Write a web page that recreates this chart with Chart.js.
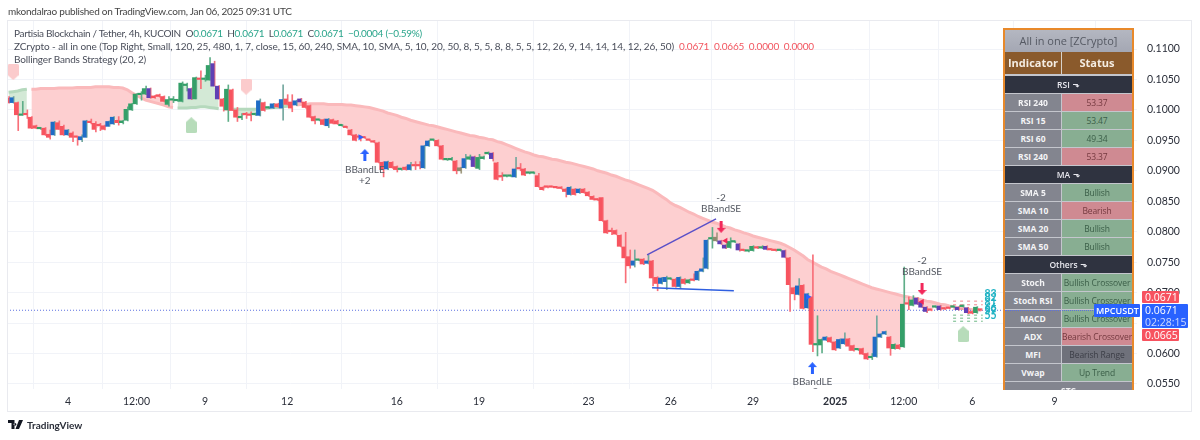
<!DOCTYPE html>
<html>
<head>
<meta charset="utf-8">
<title>MPCUSDT</title>
<script src="https://cdn.jsdelivr.net/npm/chart.js"></script>
<style>
  html, body { margin:0; padding:0; background:#fff; width:1200px; height:440px; overflow:hidden; font-family:Lato,sans-serif; color:#333; }
  canvas { position:absolute; left:0; top:0; }
  .abs { position:absolute; white-space:nowrap; }
  #frame { position:absolute; left:7px; top:20px; width:1185px; height:392px; border:1px solid #e9eaef; box-sizing:border-box; }
  .legend { font-size:10px; color:#4a4e5a; left:14px; }
  .up { color:#2aa58b; }
  .dn { color:#f2555f; }
  #panel { position:absolute; left:1003px; top:28px; width:131px; height:362px; overflow:hidden; border:solid #e8892b; border-width:2px 2px 0 2px; box-sizing:border-box; font-size:8.5px; font-family:"Open Sans",sans-serif; }
  .row { display:flex; height:18px; box-sizing:border-box; border-bottom:1px solid #c4c6cd; text-align:center; line-height:17px; }
  .l { width:56px; background:#83858f; color:#f4f4f6; font-weight:700; border-right:1px solid #c4c6cd; }
  .r { flex:1; white-space:nowrap; overflow:hidden; letter-spacing:-0.1px; }
  .bull { background:#88ae92; color:#3b5e48; }
  .bear { background:#cf8a92; color:#74393f; }
  .neut { background:#6f717b; color:#3c3e47; }
  .plain { background:#83858f; color:#f4f4f6; font-weight:700; }
  .sec { background:#2f3340; color:#e8e8ee; justify-content:center; font-weight:600; }
  .tag { position:absolute; color:#fff; font-size:10.5px; box-sizing:border-box; padding-left:3px; border-radius:1px; font-family:"Open Sans",sans-serif; }
</style>
</head>
<body>
<div id="frame"></div>
<canvas id="chart" width="1200" height="440"></canvas>

<div class="abs" style="left:8px;top:5px;font-size:10px;letter-spacing:-0.24px;color:#444">mkondalrao published on TradingView.com, Jan 06, 2025 09:31 UTC</div>
<div class="abs legend" style="top:27px;letter-spacing:-0.3px">Partisia Blockchain / Tether, 4h, KUCOIN &nbsp;O<span class="up">0.0671</span> &nbsp;H<span class="up">0.0671</span> &nbsp;L<span class="up">0.0671</span> &nbsp;C<span class="up">0.0671</span> &nbsp;<span class="up">−0.0004 (−0.59%)</span></div>
<div class="abs legend" style="top:40px;letter-spacing:-0.07px">ZCrypto - all in one (Top Right, Small, 120, 25, 480, 1, 7, close, 15, 60, 240, SMA, 10, SMA, 5, 10, 20, 50, 8, 5, 5, 8, 8, 5, 5, 12, 26, 9, 14, 14, 14, 12, 26, 50) &nbsp;<span class="dn" style="letter-spacing:-0.2px">0.0671 &nbsp;0.0665 &nbsp;0.0000 &nbsp;0.0000</span></div>
<div class="abs legend" style="top:53px;letter-spacing:-0.15px">Bollinger Bands Strategy (20, 2)</div>

<div id="panel"></div>
<div class="abs" style="left:1005px;top:310px;width:90px;border-top:1px dotted #5b6fe0"></div>

<div class="tag" style="left:1142px;top:291px;width:37px;height:12px;line-height:12px;background:#f7525f">0.0671</div>
<div class="tag" style="left:1142px;top:304px;width:46px;height:24px;line-height:12px;background:#2962ff">0.0671<br><span style="color:#cfdcff">02:28:15</span></div>
<div class="tag" style="left:1142px;top:329px;width:37px;height:12px;line-height:12px;background:#f7525f">0.0665</div>
<div class="tag" style="left:1094px;top:304px;width:46px;height:13px;line-height:13px;background:#2962ff;font-weight:600;font-size:9px;padding-left:2px">MPCUSDT</div>

<svg class="abs" style="left:8px;top:420px" width="16" height="10" viewBox="0 0 16 10"><path d="M0 0h6.5v9H3.5V3H0zM7 3a1.4 1.4 0 1 0 .01 0zM11 0h4l-4 9H7.5z" fill="#131722"/></svg>
<div class="abs" style="left:27px;top:419px;font-size:10px;font-weight:700;color:#2a2e39">TradingView</div>

<script>
const FONT = 'Lato, sans-serif';

// candles, one per 4h
const opens = [
  .1019,.1012,.1012,.0991,.0993,.0988,.0974,.0969,.0970,.0960,
  .0959,.0979,.0973,.0959,.0962,.0956,.0951,.0955,.0981,.0978,
  .0975,.0974,.0973,.0977,.0983,.0979,.0983,.1000,.1010,.1025,
  .1026,.1035,.1023,.1025,.1022,.1009,.1016,.1015,.1014,.1040,
  .1035,.1018,.1052,.1050,.1049,.1076,.1039,.1018,.1000,.1033,
  .1000,.0987,.0994,.0993,.0992,.0991,.1012,.1003,.1003,.1010,
  .1003,.1018,.1013,.1008,.1018,.1013,.1007,.0989,.0983,.0984,
  .0974,.0984,.0982,.0974,.0972,.0967,.0959,.0957,.0955,.0951,
  .0948,.0946,.0914,.0903,.0914,.0907,.0902,.0906,.0902,.0909,
  .0909,.0905,.0941,.0950,.0950,.0941,.0918,.0918,.0916,.0900,
  .0905,.0919,.0923,.0904,.0920,.0928,.0929,.0913,.0891,.0891,
  .0891,.0890,.0904,.0903,.0896,.0896,.0892,.0873,.0874,.0874,
  .0873,.0873,.0870,.0861,.0870,.0864,.0870,.0865,.0858,.0853,
  .0856,.0818,.0801,.0802,.0794,.0775,.0759,.0745,.0753,.0755,
  .0748,.0752,.0725,.0715,.0718,.0722,.0722,.0710,.0722,.0716,
  .0722,.0721,.0735,.0740,.0788,.0785,.0785,.0778,.0774,.0783,
  .0780,.0770,.0768,.0769,.0774,.0773,.0776,.0771,.0770,.0769,
  .0769,.0757,.0708,.0697,.0712,.0675,.0693,.0614,.0614,.0622,
  .0626,.0619,.0609,.0616,.0624,.0613,.0606,.0608,.0600,.0593,
  .0595,.0627,.0632,.0627,.0608,.0614,.0611,.0682,.0679,.0691,
  .0684,.0676,.0672,.0676,.0678,.0674,.0675,.0676,.0676,.0677,
  .0675,.0669,.0667,.0671];
const highs = [
  .1022,.1022,.1013,.1014,.1000,.0989,.0975,.0971,.0971,.0967,
  .0981,.0982,.0975,.0968,.0964,.0957,.0959,.0983,.0985,.0981,
  .0978,.0975,.0982,.0989,.0989,.0983,.1005,.1011,.1027,.1030,
  .1039,.1036,.1024,.1026,.1023,.1022,.1022,.1017,.1046,.1044,
  .1036,.1054,.1064,.1057,.1086,.1080,.1040,.1019,.1041,.1034,
  .1004,.0994,.0996,.0997,.0995,.1018,.1013,.1005,.1011,.1011,
  .1041,.1025,.1025,.1016,.1019,.1014,.1008,.0990,.0985,.0985,
  .0986,.0985,.0983,.0976,.0973,.0968,.0960,.0958,.0956,.0952,
  .0950,.0947,.0915,.0916,.0915,.0908,.0904,.0907,.0914,.0915,
  .0915,.0942,.0950,.0952,.0951,.0942,.0920,.0922,.0917,.0906,
  .0927,.0926,.0924,.0927,.0924,.0931,.0930,.0914,.0897,.0893,
  .0893,.0922,.0912,.0904,.0898,.0898,.0896,.0874,.0875,.0875,
  .0874,.0874,.0871,.0874,.0871,.0871,.0871,.0866,.0859,.0854,
  .0856,.0819,.0806,.0803,.0795,.0799,.0770,.0770,.0755,.0756,
  .0762,.0753,.0726,.0725,.0727,.0724,.0723,.0726,.0723,.0722,
  .0731,.0736,.0757,.0787,.0807,.0798,.0786,.0779,.0790,.0785,
  .0781,.0771,.0770,.0777,.0776,.0777,.0777,.0772,.0771,.0771,
  .0770,.0758,.0709,.0723,.0713,.0699,.0762,.0662,.0624,.0628,
  .0627,.0620,.0624,.0634,.0625,.0614,.0608,.0609,.0601,.0600,
  .0662,.0633,.0637,.0628,.0616,.0615,.0742,.0693,.0695,.0692,
  .0685,.0677,.0673,.0678,.0679,.0675,.0676,.0678,.0677,.0680,
  .0676,.0670,.0677,.0671];
const lows = [
  .1011,.1011,.0966,.0991,.0986,.0969,.0969,.0968,.0958,.0952,
  .0958,.0968,.0958,.0958,.0948,.0942,.0948,.0955,.0977,.0964,
  .0966,.0967,.0973,.0976,.0975,.0977,.0982,.0999,.1009,.1016,
  .1025,.1019,.1019,.1021,.1013,.1006,.1012,.1014,.1013,.1031,
  .1017,.1018,.1035,.1047,.1049,.1039,.1018,.0998,.0981,.0999,
  .0981,.0984,.0986,.0982,.0991,.0990,.0998,.1002,.1002,.1004,
  .0983,.1008,.0997,.1007,.1012,.1003,.0987,.0977,.0982,.0975,
  .0971,.0977,.0976,.0973,.0970,.0958,.0949,.0949,.0953,.0949,
  .0946,.0913,.0890,.0902,.0904,.0898,.0901,.0901,.0901,.0902,
  .0903,.0904,.0940,.0949,.0940,.0918,.0917,.0917,.0895,.0896,
  .0904,.0918,.0906,.0902,.0919,.0927,.0916,.0885,.0884,.0890,
  .0890,.0889,.0900,.0892,.0895,.0895,.0873,.0868,.0872,.0873,
  .0871,.0870,.0857,.0860,.0860,.0863,.0863,.0858,.0852,.0851,
  .0817,.0797,.0795,.0795,.0775,.0716,.0740,.0742,.0752,.0746,
  .0747,.0711,.0703,.0714,.0705,.0721,.0709,.0707,.0714,.0715,
  .0719,.0720,.0734,.0739,.0773,.0784,.0779,.0772,.0773,.0782,
  .0768,.0768,.0767,.0768,.0772,.0772,.0770,.0769,.0768,.0768,
  .0757,.0669,.0688,.0696,.0673,.0674,.0603,.0596,.0601,.0621,
  .0618,.0605,.0608,.0615,.0605,.0604,.0605,.0598,.0590,.0590,
  .0594,.0626,.0631,.0597,.0607,.0607,.0610,.0672,.0678,.0680,
  .0675,.0667,.0670,.0675,.0671,.0672,.0673,.0675,.0671,.0676,
  .0665,.0665,.0666,.0671];
const closes = [
  .1012,.1020,.0992,.0992,.0992,.0970,.0970,.0970,.0959,.0955,
  .0980,.0968,.0959,.0967,.0955,.0955,.0956,.0982,.0979,.0968,
  .0974,.0968,.0981,.0988,.0979,.0982,.1001,.1010,.1026,.1027,
  .1035,.1020,.1020,.1022,.1014,.1017,.1017,.1016,.1044,.1041,
  .1018,.1053,.1050,.1051,.1073,.1039,.1018,.1006,.1034,.0999,
  .0988,.0989,.0992,.0991,.0993,.1015,.0999,.1004,.1010,.1005,
  .1017,.1009,.1003,.1015,.1013,.1004,.0988,.0982,.0984,.0976,
  .0985,.0978,.0977,.0975,.0971,.0959,.0950,.0955,.0954,.0950,
  .0947,.0914,.0902,.0915,.0905,.0902,.0903,.0902,.0910,.0908,
  .0908,.0941,.0949,.0951,.0941,.0919,.0919,.0919,.0900,.0905,
  .0920,.0923,.0907,.0922,.0923,.0929,.0920,.0886,.0890,.0892,
  .0892,.0903,.0903,.0893,.0897,.0897,.0874,.0869,.0873,.0873,
  .0872,.0871,.0866,.0873,.0861,.0870,.0864,.0859,.0853,.0852,
  .0818,.0798,.0800,.0796,.0776,.0757,.0744,.0752,.0754,.0747,
  .0752,.0724,.0715,.0724,.0725,.0723,.0710,.0725,.0715,.0721,
  .0720,.0735,.0739,.0786,.0789,.0791,.0780,.0773,.0784,.0784,
  .0770,.0769,.0769,.0776,.0773,.0774,.0771,.0770,.0769,.0770,
  .0758,.0713,.0698,.0711,.0674,.0698,.0615,.0615,.0623,.0627,
  .0619,.0606,.0623,.0624,.0612,.0605,.0607,.0599,.0591,.0594,
  .0627,.0632,.0636,.0609,.0615,.0608,.0681,.0681,.0688,.0681,
  .0676,.0669,.0671,.0677,.0672,.0673,.0674,.0677,.0672,.0678,
  .0667,.0666,.0676,.0671];
// bar colouring from the indicator: r red, g green, b blue, p purple, o olive
const barKinds = ('rbrgrrrgrr'+'brrbrrbbrr'+'rrbbrggggg'+'gprrrggggg'+'pgrggpprgr'+'rgrrgbrgbr'+'brrbprrrgr'+'brrgrrrrrr'+'rrrbrrgrbr'+'rbbgrrggro'
  +'bgpgggprrg'+'gbrrggrrrr'+'rrrbrbrrrr'+'rrrrrrrbgr'+'brrbbgrbrg'+'rbbbgoppgg'+'prggrgprrg'+'prrbrbrggb'+'rrbbrrgrrg'+'bbbrgrgrgp'+'pprgprrgpg'+'prgr').split('');

// the thick trend band above the candles
const bandLine = [
  .1029,.1030,.1031,.1033,.1034,
  .1034,.1034,.1035,.1035,.1035,.1035,.1036,.1036,.1036,
  .1036,.1037,.1037,.1037,.1037,.1038,.1038,
  .1038,.1038,.1037,.1037,.1036,
  .1033,.1028,.1024,.1020,.1016,
  .1014,.1012,.1010,.1008,.1005,.1004,.1003,
  .1003,.1003,.1004,.1004,.1005,.1005,
  .1004,.1003,.1002,.1002,.1001,
  .1001,.1001,.1001,.1001,.1001,.1001,
  .1002,.1002,.1003,.1004,.1004,.1005,.1006,
  .1007,.1008,.1009,.1009,.1010,
  .1010,.1010,.1010,.1009,.1009,.1009,.1009,.1008,.1008,
  .1007,.1006,.1005,.1004,.1002,.1000,
  .0998,.0995,.0993,.0991,.0988,.0986,.0983,
  .0981,.0979,.0977,.0975,.0974,.0972,.0970,.0968,.0966,.0964,.0962,
  .0960,.0958,.0957,.0955,.0954,.0952,.0951,
  .0948,.0946,.0943,.0940,.0937,.0934,.0931,.0929,.0926,
  .0924,.0923,.0921,.0919,.0918,.0916,.0914,.0913,.0911,.0909,.0907,.0905,
  .0903,.0900,.0898,.0896,.0893,.0891,.0888,
  .0885,.0883,.0880,.0877,.0874,.0871,.0868,
  .0863,.0858,.0853,.0847,
  .0843,.0840,.0836,.0832,.0829,.0825,.0822,
  .0819,.0816,.0814,.0811,.0808,
  .0806,.0803,.0801,.0798,.0796,.0793,.0791,
  .0789,.0787,.0785,.0783,.0781,.0778,
  .0774,.0770,.0765,.0760,.0754,
  .0750,.0746,.0742,.0739,.0735,.0732,
  .0729,.0726,.0723,.0720,.0717,.0714,.0711,.0708,
  .0706,.0704,.0702,.0700,.0698,.0696,
  .0694,.0693,.0691,.0690,.0688,.0686,.0685,.0683,
  .0681,.0680,.0678,.0677,.0675,
  .0674,.0673,.0672,.0672,.0671];
// candle ranges where the band is green instead of pink
const greenRanges = [[0, 4], [37, 46], [49, 62]];

const timeTicks = [13, 28, 43, 61, 85, 103, 127, 145, 163, 181, 196, 211, 229];
const timeLabels = ['4', '12:00', '9', '12', '16', '19', '23', '26', '29', '2025', '12:00', '6', '9'];
const priceTicks = [.1100, .1050, .1000, .0950, .0900, .0850, .0800, .0750, .0700, .0650, .0600, .0550];
const lastPrice = 0.0671;

// drawn trend lines, candle index + price
const wedgeTop = [[139.8, .0762], [154.9, .0821]];
const wedgeBottom = [[140.9, .0708], [158.8, .0703]];

// strategy entries
const longEntries = [[78, .0926], [176, .0576]];
const shortEntries = [[156, .0808], [200, .0706]];
const pointRightMarks = [[77, .0955], [175, .0693]];
const pointLeftMarks = [[157, .0785], [200, .0685]];
const pinkFlags = [[1, .1062], [52, .1038]];
const greenFlags = [[40, .0975], [209, .0632]];
const signalTexts = ['BBandLE', '+2', 'BBandLE', '+2', 'BBandSE', '-2', 'BBandSE', '-2'];
const signalTextX = [78, 78, 176, 176, 156, 156, 200, 200];
const signalTextY = [.0901, .0883, .0553, .0537, .0837, .0855, .0735, .0753];

// pivot levels at the right end
const levelsAbove = [.0686, .0680, .0673];
const levelsBelow = [.0663, .0658, .0653];
const levelSpan = [206.8, 213.3];
const pivotTexts = ['83', '82', '81', '66', '59', '55'];
const pivotPrices = [.0699, .0691, .0683, .0676, .0670, .0662];

// table on the right
const rsiRows = [['RSI 240', '53.37', 'bear'], ['RSI 15', '53.47', 'bull'], ['RSI 60', '49.34', 'bull'], ['RSI 240', '53.37', 'bear']];
const maRows = [['SMA 5', 'Bullish', 'bull'], ['SMA 10', 'Bearish', 'bear'], ['SMA 20', 'Bullish', 'bull'], ['SMA 50', 'Bullish', 'bull']];
const otherRows = [['Stoch', 'Bullish Crossover', 'bull'], ['Stoch RSI', 'Bullish Crossover', 'bull'], ['MACD', 'Bullish Crossover', 'bull'], ['ADX', 'Bearish Crossover', 'bear'], ['MFI', 'Bearish Range', 'neut'], ['Vwap', 'Up Trend', 'bull']];

function buildPanel() {
  const rows = list => list.map(r => `<div class="row"><div class="l">${r[0]}</div><div class="r ${r[2]}">${r[1]}</div></div>`).join('');
  const sec = t => `<div class="row sec">${t} <span style="font-family:'DejaVu Sans'">&nbsp;⬎</span></div>`;
  document.getElementById('panel').innerHTML =
    `<div style="height:22px;line-height:22px;text-align:center;font-size:11px;color:#555963;background:linear-gradient(#b4b7c1,#a4a7b3)">All in one [ZCrypto]</div>` +
    `<div style="display:flex;height:22px;line-height:21px;font-size:11px;font-weight:700;color:#f4ece2;text-align:center;background:#8a5a2c;border-bottom:2px solid #c4c6cd;box-sizing:content-box">` +
    `<div style="width:56px;border-right:1px solid #d8d2ca">Indicator</div><div style="flex:1">Status</div></div>` +
    sec('RSI') + rows(rsiRows) + sec('MA') + rows(maRows) + sec('Others') + rows(otherRows) +
    `<div class="row plain" style="display:block">STC</div>`;
}
buildPanel();

// marker shapes for pointStyle
function shape(w, h, draw) {
  const c = document.createElement('canvas');
  c.width = w; c.height = h;
  draw(c.getContext('2d'), w, h);
  return c;
}
function arrow(color, up) {
  return shape(9, 12, (g, w, h) => {
    if (!up) { g.translate(0, h); g.scale(1, -1); }
    g.fillStyle = color;
    g.beginPath();
    g.moveTo(w / 2, 0); g.lineTo(w, 5); g.lineTo(6, 5); g.lineTo(6, h); g.lineTo(3, h); g.lineTo(3, 5); g.lineTo(0, 5);
    g.closePath(); g.fill();
  });
}
function flag(color, up) {
  return shape(11, 16, (g, w, h) => {
    if (up) { g.translate(0, h); g.scale(1, -1); }
    g.fillStyle = color;
    g.beginPath();
    g.moveTo(1, 0); g.lineTo(w - 1, 0); g.lineTo(w, 1); g.lineTo(w, h - 5); g.lineTo(w / 2, h); g.lineTo(0, h - 5); g.lineTo(0, 1);
    g.closePath(); g.fill();
  });
}

const idx = bandLine.map((v, i) => i);
const toXY = pairs => pairs.map(p => ({ x: p[0], y: p[1] }));
const isGreen = i => greenRanges.some(r => i >= r[0] && i <= r[1]);

const bodyColor = { r: '#f7545f', g: '#349f68', b: '#1f6cc6', p: '#6040b4', o: '#8f8a6f' };
const wickColor = { r: '#f86f79', g: '#5fae88', b: '#74a89f', p: '#ea7480', o: '#a09a80' };

const levelLine = price => ({
  type: 'line', data: levelSpan.map(x => ({ x: x, y: price })), pointRadius: 0, borderWidth: 1,
  borderDash: [3, 4], order: 3
});
const markers = (pairs, style, extra) => Object.assign({
  type: 'scatter', data: toXY(pairs), pointStyle: style, pointRadius: 5, order: 0
}, extra || {});

const datasets = [
  // index 0: fill target only
  { type: 'line', data: idx.map(i => ({ x: i, y: closes[i] })), pointRadius: 0, borderWidth: 0, borderColor: 'transparent', order: 9 },
  { type: 'line', data: idx.map(i => ({ x: i, y: isGreen(i) ? null : bandLine[i] })), pointRadius: 0, borderWidth: 3, borderColor: '#fab9bb',
    fill: { target: 0, above: '#fdcfd0', below: '#fdcfd0' }, order: 8 },
  { type: 'line', data: idx.map(i => ({ x: i, y: isGreen(i) ? bandLine[i] : null })), pointRadius: 0, borderWidth: 3, borderColor: '#b5d9bd',
    fill: { target: 0, above: '#d3e9d6', below: '#d3e9d6' }, order: 8 },
  // last price
  { type: 'line', data: [{ x: -1, y: lastPrice }, { x: 248, y: lastPrice }], pointRadius: 0, borderWidth: 1, borderColor: '#5b6fe0', borderDash: [1, 2], order: 7 },
  // wicks and bodies
  { type: 'bar', data: idx.map(i => ({ x: i, y: [lows[i], highs[i]] })), backgroundColor: barKinds.map(k => wickColor[k]), barThickness: 1, order: 2 },
  { type: 'bar', data: idx.map(i => ({ x: i, y: [opens[i], closes[i]] })), backgroundColor: barKinds.map(k => bodyColor[k]),
    borderWidth: 0, barThickness: 3.4, minBarLength: 1.5, order: 1 },
  // hand drawn lines
  { type: 'line', data: toXY(wedgeTop), pointRadius: 0, borderWidth: 1.5, borderColor: '#5a50c8', order: 0 },
  { type: 'line', data: toXY(wedgeBottom), pointRadius: 0, borderWidth: 1.5, borderColor: '#2f5fe0', order: 0 }
];
levelsAbove.forEach(p => datasets.push(Object.assign(levelLine(p), { borderColor: '#f0848c' })));
levelsBelow.forEach(p => datasets.push(Object.assign(levelLine(p), { borderColor: '#6db784' })));
datasets.push(
  markers(longEntries, arrow('#2962ff', true)),
  markers(shortEntries, arrow('#f2285a', false)),
  markers(pinkFlags, flag('#fbcbcc', false)),
  markers(greenFlags, flag('#b7dcba', true)),
  markers(pointRightMarks, 'triangle', { pointRotation: 90, pointRadius: 3.5, backgroundColor: '#2962ff', borderWidth: 0 }),
  markers(pointLeftMarks, 'triangle', { pointRotation: -90, pointRadius: 3.5, backgroundColor: '#f2285a', borderWidth: 0 })
);

// strategy captions and the pivot numbers, placed through the scales
const captions = {
  id: 'captions',
  afterDatasetsDraw(chart) {
    const { ctx, chartArea: a, scales: { x, y } } = chart;
    ctx.save();
    ctx.beginPath();
    ctx.rect(a.left, a.top, a.right - a.left, a.bottom - a.top);
    ctx.clip();
    ctx.textAlign = 'center';
    ctx.textBaseline = 'middle';
    ctx.font = '10px ' + FONT;
    ctx.fillStyle = '#555962';
    signalTexts.forEach((t, i) => ctx.fillText(t, x.getPixelForValue(signalTextX[i]), y.getPixelForValue(signalTextY[i])));
    ctx.font = '700 10.5px ' + FONT;
    ctx.fillStyle = '#22b3c4';
    pivotTexts.forEach((t, i) => ctx.fillText(t, x.getPixelForValue(215), y.getPixelForValue(pivotPrices[i])));
    ctx.restore();
  }
};

new Chart(document.getElementById('chart'), {
  type: 'bar',
  data: { datasets: datasets },
  plugins: [captions],
  options: {
    responsive: false,
    animation: false,
    events: [],
    layout: { padding: { left: 8, right: 8, top: 21, bottom: 28 } },
    plugins: { legend: { display: false }, tooltip: { enabled: false } },
    scales: {
      x: {
        type: 'linear', min: -0.13, max: 247.07, offset: false,
        afterBuildTicks: axis => { axis.ticks = timeTicks.map(v => ({ value: v })); },
        afterFit: axis => { axis.height = 23; },
        grid: { color: '#f1f3f8', drawTicks: false },
        border: { display: false },
        ticks: {
          autoSkip: false, maxRotation: 0, padding: 6, color: '#2a2e39',
          font: ctx => ({ family: FONT, size: 10.5, weight: ctx.tick && ctx.tick.value === 181 ? '700' : '400' }),
          callback: v => timeLabels[timeTicks.indexOf(v)]
        }
      },
      y: {
        position: 'right', min: 0.05417, max: 0.1146,
        afterBuildTicks: axis => { axis.ticks = priceTicks.map(v => ({ value: v })); },
        afterFit: axis => { axis.width = 55; },
        grid: { color: '#f1f3f8', drawTicks: false },
        border: { display: false },
        ticks: { padding: 10, color: '#2a2e39', font: { family: FONT, size: 10.5 }, callback: v => v.toFixed(4) }
      }
    }
  }
});
</script>
</body>
</html>
